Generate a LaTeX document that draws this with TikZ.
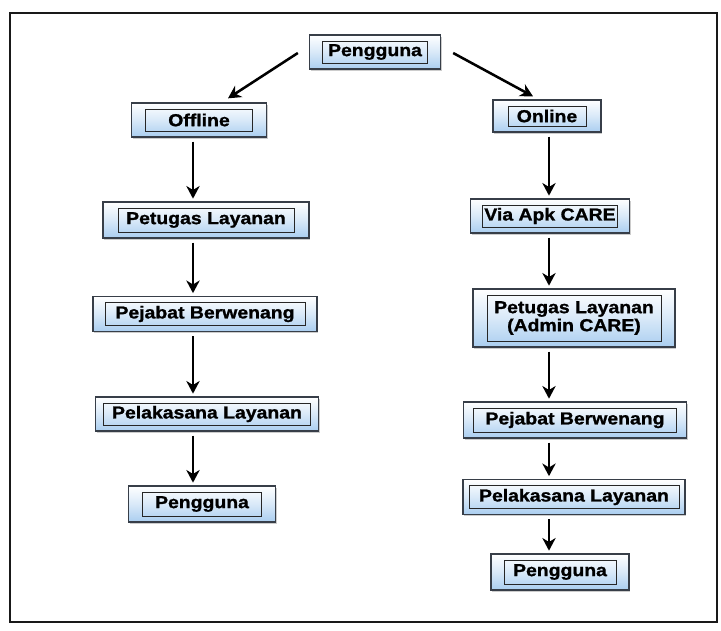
\documentclass[tikz,border=0pt]{standalone}
\usepackage{fontspec}
\newfontfamily\boxfont[FakeStretch=1.12,BoldFeatures={FakeBold=1.2}]{Liberation Sans}
\usetikzlibrary{arrows.meta,calc,shadows}
\definecolor{boxblue}{RGB}{170,206,240}
\definecolor{boxedge}{RGB}{55,62,72}
\definecolor{framecol}{RGB}{25,25,25}
\begin{document}
\begin{tikzpicture}[x=0.75pt,y=-0.75pt,
  bx/.style n args={4}{draw=boxedge, line width=1pt,
    top color=white, bottom color=boxblue, middle color=white!55!boxblue,
    drop shadow={opacity=0.4, shadow xshift=1pt, shadow yshift=-1.3pt},
    minimum width={0.75pt*#1}, minimum height={0.75pt*#2}, inner sep=0pt,
    align=center, font=\boxfont\bfseries\fontsize{13}{13.5}\selectfont,
    path picture={\draw[line width=0.6pt, black!85]
      ([shift={(#3,#4)}]path picture bounding box.north west) rectangle
      ([shift={(-#3,-#4)}]path picture bounding box.south east);}},
  arr/.style={line width=1.9pt, black, -{Stealth[length=9.5pt,width=10pt,inset=3pt]}}]
\useasboundingbox (0,0) rectangle (721,631);
\fill[white] (0,0) rectangle (721,631);
\draw[framecol, line width=1.6pt] (10,13) rectangle (717,622);

\node[bx={131}{34}{13}{6}] (top) at (375,52) {Pengguna};
\node[bx={135}{34}{14}{6}] (off) at (199,120) {Offline};
\node[bx={108}{32}{15}{6}] (on) at (547,116) {Online};

\node[bx={206}{36}{15}{6}] (lp1) at (206,220) {Petugas Layanan};
\node[bx={224}{35}{12}{6}] (lp2) at (205,314) {Pejabat Berwenang};
\node[bx={223}{34}{8}{6}] (lp3) at (207,414) {Pelakasana Layanan};
\node[bx={147}{36}{14}{6}] (lp4) at (202,504) {Pengguna};

\node[bx={159}{34}{12}{6}] (rp1) at (550,216) {Via Apk CARE};
\node[bx={202}{58}{14}{6}] (rp2) at (574,318) {Petugas Layanan\\(Admin CARE)};
\node[bx={223}{36}{10}{6}] (rp3) at (575,420) {Pejabat Berwenang};
\node[bx={222}{35}{6}{6}] (rp4) at (574,497) {Pelakasana Layanan};
\node[bx={138}{36}{13}{6}] (rp5) at (560,572) {Pengguna};

\coordinate (L) at (193,0);
\coordinate (R) at (549,0);

\draw[arr] ($(top.west)+(-11,1)$) -- ($(off.north)+(29,-4)$);
\draw[arr] ($(top.east)+(12,1)$) -- ($(on.north)+(-14,-3)$);

\draw[arr, shorten <=3pt, shorten >=2pt] (off.south -| L) -- (lp1.north -| L);
\draw[arr, shorten <=3pt, shorten >=2pt] (lp1.south -| L) -- (lp2.north -| L);
\draw[arr, shorten <=3pt, shorten >=2pt] (lp2.south -| L) -- (lp3.north -| L);
\draw[arr, shorten <=3pt, shorten >=2pt] (lp3.south -| L) -- (lp4.north -| L);

\draw[arr, shorten <=3pt, shorten >=2pt] (on.south -| R) -- (rp1.north -| R);
\draw[arr, shorten <=3pt, shorten >=2pt] (rp1.south -| R) -- (rp2.north -| R);
\draw[arr, shorten <=3pt, shorten >=2pt] (rp2.south -| R) -- (rp3.north -| R);
\draw[arr, shorten <=3pt, shorten >=2pt] (rp3.south -| R) -- (rp4.north -| R);
\draw[arr, shorten <=3pt, shorten >=2pt] (rp4.south -| R) -- (rp5.north -| R);
\end{tikzpicture}
\end{document}
